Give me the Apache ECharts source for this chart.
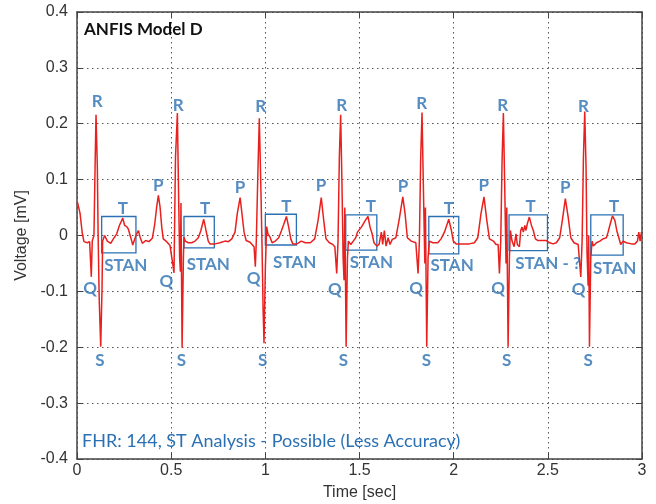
<!DOCTYPE html>
<html>
<head>
<meta charset="utf-8">
<title>ANFIS Model D</title>
<script src="https://cdn.jsdelivr.net/npm/echarts@6/dist/echarts.min.js"></script>
<style>
  html, body { margin: 0; padding: 0; background: #ffffff; }
  #chart { width: 656px; height: 504px; }
</style>
</head>
<body>
<div id="chart"></div>
<script>
// Fetal ECG reconstruction, ANFIS model D: [time (s), voltage (mV)] per beat
const beat1 = [[0.002,0.060],[0.016,0.040],[0.028,0.004],[0.037,-0.011],[0.055,-0.013],[0.067,-0.011],[0.076,-0.074],[0.081,-0.010],[0.090,0.000],[0.096,0.123],[0.101,0.216],[0.108,0.123],[0.112,0.004],[0.118,-0.115],[0.126,-0.199],[0.133,-0.092],[0.136,-0.010],[0.147,0.000],[0.161,-0.010],[0.179,-0.014],[0.193,-0.006],[0.211,0.003],[0.225,0.018],[0.243,0.031],[0.253,0.018],[0.264,0.016],[0.272,0.012],[0.285,-0.003],[0.296,-0.017],[0.306,-0.014],[0.313,0.000],[0.326,0.009],[0.335,-0.003],[0.347,-0.014],[0.365,-0.009],[0.382,-0.011],[0.400,-0.005],[0.413,0.021],[0.423,0.051],[0.432,0.072],[0.441,0.051],[0.450,0.015],[0.458,-0.006],[0.476,-0.011],[0.494,-0.018]];
const beat2 = [[0.508,-0.050],[0.515,-0.067],[0.523,0.140],[0.533,0.219],[0.540,0.060],[0.545,-0.040],[0.549,-0.065],[0.552,0.058],[0.558,-0.201],[0.565,-0.040],[0.568,-0.003],[0.575,-0.010],[0.591,-0.013],[0.609,-0.013],[0.627,-0.010],[0.644,-0.004],[0.657,0.008],[0.673,0.029],[0.685,0.009],[0.697,-0.010],[0.706,-0.015],[0.733,-0.015],[0.759,-0.013],[0.786,-0.010],[0.804,-0.011],[0.822,-0.006],[0.839,0.006],[0.851,0.039],[0.866,0.068],[0.876,0.039],[0.887,0.006],[0.898,-0.009],[0.919,-0.012],[0.940,-0.020]];
const beat3 = [[0.947,-0.056],[0.952,-0.010],[0.961,0.120],[0.968,0.210],[0.976,0.090],[0.982,-0.010],[0.988,-0.130],[0.993,-0.193],[1.000,-0.060],[1.007,0.016],[1.014,0.003],[1.025,-0.003],[1.036,-0.013],[1.053,-0.010],[1.071,-0.004],[1.085,0.008],[1.098,0.020],[1.112,0.034],[1.124,0.015],[1.135,-0.006],[1.146,-0.015],[1.168,-0.015],[1.191,-0.010],[1.212,-0.013],[1.239,-0.013],[1.262,-0.006],[1.280,0.027],[1.297,0.068],[1.310,0.027],[1.322,-0.006],[1.340,-0.013],[1.358,-0.016],[1.369,-0.020]];
const beat4 = [[1.379,-0.068],[1.386,-0.010],[1.393,0.140],[1.400,0.216],[1.407,0.090],[1.413,-0.040],[1.418,-0.080],[1.422,0.050],[1.429,-0.199],[1.436,-0.040],[1.441,-0.010],[1.454,-0.016],[1.467,-0.010],[1.480,-0.004],[1.489,0.006],[1.499,0.003],[1.510,0.015],[1.520,0.012],[1.531,0.027],[1.545,0.034],[1.556,0.015],[1.567,0.003],[1.577,-0.013],[1.592,-0.019],[1.604,-0.016],[1.616,0.006],[1.623,-0.016],[1.632,0.009],[1.641,-0.019],[1.652,-0.004],[1.662,-0.016],[1.674,-0.007],[1.693,-0.004],[1.710,0.027],[1.730,0.069],[1.742,0.039],[1.754,-0.004],[1.775,-0.010],[1.799,-0.013],[1.804,-0.016]];
const beat5 = [[1.811,-0.068],[1.818,-0.010],[1.825,0.140],[1.832,0.220],[1.839,0.090],[1.847,-0.050],[1.850,0.050],[1.857,-0.199],[1.864,-0.040],[1.871,-0.010],[1.889,-0.013],[1.916,-0.013],[1.933,-0.006],[1.951,0.006],[1.974,0.029],[1.988,0.009],[1.998,-0.010],[2.013,-0.015],[2.048,-0.015],[2.083,-0.015],[2.110,-0.013],[2.128,-0.004],[2.145,0.039],[2.161,0.069],[2.176,0.027],[2.190,-0.006],[2.211,-0.010],[2.225,-0.016],[2.236,-0.016]];
const beat6 = [[2.243,-0.068],[2.250,-0.010],[2.257,0.134],[2.264,0.219],[2.271,0.090],[2.278,-0.050],[2.282,0.050],[2.289,-0.199],[2.296,-0.040],[2.301,0.009],[2.310,-0.010],[2.321,-0.020],[2.331,0.003],[2.338,-0.016],[2.349,-0.020],[2.356,0.009],[2.363,0.015],[2.370,0.006],[2.378,0.018],[2.384,0.009],[2.391,0.021],[2.402,0.033],[2.413,0.018],[2.423,0.009],[2.434,-0.006],[2.448,-0.009],[2.466,-0.009],[2.492,-0.009],[2.510,-0.013],[2.528,-0.015],[2.545,-0.013],[2.563,-0.004],[2.577,0.027],[2.593,0.066],[2.608,0.033],[2.622,-0.004],[2.639,-0.013],[2.661,-0.016]];
const beat7 = [[2.675,-0.074],[2.682,-0.010],[2.689,0.140],[2.696,0.222],[2.703,0.120],[2.708,-0.030],[2.714,-0.090],[2.717,0.000],[2.721,-0.199],[2.728,-0.040],[2.735,-0.010],[2.742,-0.019],[2.758,-0.013],[2.776,-0.010],[2.793,-0.006],[2.811,-0.004],[2.820,0.006],[2.829,0.018],[2.843,0.035],[2.856,0.027],[2.866,0.009],[2.877,-0.004],[2.887,-0.016],[2.900,-0.010],[2.917,-0.013],[2.944,-0.015],[2.962,-0.015],[2.976,-0.010],[2.983,0.006],[2.990,-0.010],[2.997,0.006]];

// ST-segment analysis windows (time range, voltage range)
const stanStart  = [0.131, 0.568, 1.000, 1.427, 1.868, 2.294, 2.728];
const stanEnd    = [0.313, 0.729, 1.165, 1.592, 2.027, 2.498, 2.900];
const stanTop    = [0.034, 0.034, 0.038, 0.037, 0.034, 0.037, 0.037];
const stanBottom = [-0.031, -0.022, -0.017, -0.026, -0.033, -0.027, -0.035];

// Wave annotation anchors (time, voltage)
const rLabelT = [0.108, 0.538, 0.976, 1.406, 1.830, 2.261, 2.689];
const rLabelV = [0.239, 0.233, 0.230, 0.233, 0.236, 0.233, 0.230];
const sLabelT = [0.122, 0.555, 0.986, 1.414, 1.855, 2.281, 2.714];
const sLabelV = [-0.223, -0.223, -0.223, -0.223, -0.223, -0.223, -0.223];
const qLabelT = [0.069, 0.475, 0.938, 1.369, 1.800, 2.236, 2.664];
const qLabelV = [-0.094, -0.083, -0.077, -0.097, -0.094, -0.094, -0.097];
const pLabelT = [0.432, 0.866, 1.296, 1.731, 2.160, 2.593];
const pLabelV = [0.090, 0.085, 0.089, 0.087, 0.089, 0.085];
const tLabelT = [0.243, 0.680, 1.112, 1.560, 1.974, 2.409, 2.852];
const tLabelV = [0.049, 0.049, 0.052, 0.052, 0.049, 0.052, 0.052];
const stanLabelT = [0.259, 0.697, 1.156, 1.563, 1.992, 2.501, 2.855];
const stanLabelV = [-0.053, -0.052, -0.049, -0.049, -0.053, -0.050, -0.059];
const stanTexts  = ['STAN', 'STAN', 'STAN', 'STAN', 'STAN', 'STAN - ?', 'STAN'];

// Axis tick labels
const xTickLabels = ['0', '0.5', '1', '1.5', '2', '2.5', '3'];
const yTickLabels = ['-0.4', '-0.3', '-0.2', '-0.1', '0', '0.1', '0.2', '0.3', '0.4'];

const BLUE = '#2a70b3';
const ecg = [].concat(beat1, beat2, beat3, beat4, beat5, beat6, beat7);

function annotation(times, volts, texts) {
  return {
    type: 'scatter',
    silent: true,
    symbolSize: 1,
    itemStyle: { color: 'rgba(0,0,0,0)' },
    z: 5,
    data: times.map((t, i) => ({ value: [t, volts[i]], name: Array.isArray(texts) ? texts[i] : texts })),
    label: {
      show: true,
      position: 'inside',
      formatter: p => p.name,
      color: BLUE,
      fontFamily: 'Lato',
      fontWeight: 'bold',
      fontSize: 17
    }
  };
}

const tickFont = { color: '#333', fontFamily: 'Liberation Sans, Arial', fontSize: 16 };
const boxLine = { show: true, onZero: false, lineStyle: { color: '#444', width: 1.5 } };
const gridDots = { show: true, lineStyle: { color: '#555', width: 1, type: [1.5, 3.5] } };
const inTicks = { show: true, inside: true, length: 6, lineStyle: { color: '#444' } };

const chart = echarts.init(document.getElementById('chart'), null, { renderer: 'canvas' });
chart.setOption({
  animation: false,
  backgroundColor: '#ffffff',
  grid: { left: 77, right: 14, top: 12, bottom: 45, containLabel: false, outerBoundsMode: 'none' },
  xAxis: [
    {
      type: 'value', min: 0, max: 3, interval: 0.5, position: 'bottom',
      name: 'Time [sec]', nameLocation: 'middle', nameGap: 26,
      nameTextStyle: { color: '#333', fontFamily: 'Liberation Sans, Arial', fontSize: 16 },
      axisLine: boxLine,
      axisTick: inTicks,
      axisLabel: Object.assign({ margin: 4, formatter: v => xTickLabels[Math.round(v / 0.5)] }, tickFont),
      splitLine: gridDots
    },
    {
      type: 'value', min: 0, max: 3, interval: 0.5, position: 'top',
      axisLine: boxLine,
      axisTick: inTicks,
      axisLabel: { show: false },
      splitLine: { show: false }
    }
  ],
  yAxis: [
    {
      type: 'value', min: -0.4, max: 0.4, interval: 0.1, position: 'left',
      name: 'Voltage [mV]', nameLocation: 'middle', nameGap: 46, nameRotate: 90,
      nameTextStyle: { color: '#333', fontFamily: 'Liberation Sans, Arial', fontSize: 16 },
      axisLine: boxLine,
      axisTick: inTicks,
      axisLabel: Object.assign({ margin: 9, formatter: v => yTickLabels[Math.round((v + 0.4) / 0.1)] }, tickFont),
      splitLine: gridDots
    },
    {
      type: 'value', min: -0.4, max: 0.4, interval: 0.1, position: 'right',
      axisLine: boxLine,
      axisTick: inTicks,
      axisLabel: { show: false },
      splitLine: { show: false }
    }
  ],
  graphic: [
    {
      type: 'text', left: 84, top: 21, z: 10,
      style: { text: 'ANFIS Model D', fill: '#111', font: 'bold 17px Lato' }
    },
    {
      type: 'text', left: 82, top: 432, z: 10,
      style: { text: 'FHR: 144, ST Analysis - Possible (Less Accuracy)', fill: BLUE, font: '18px Lato' }
    }
  ],
  series: [
    {
      type: 'line',
      data: ecg,
      showSymbol: false,
      silent: true,
      z: 3,
      lineStyle: { color: '#e8201e', width: 1.5 },
      markArea: {
        silent: true,
        itemStyle: { color: 'rgba(0,0,0,0)', borderColor: BLUE, borderWidth: 1.3 },
        data: stanStart.map((s, i) => [
          { coord: [s, stanTop[i]] },
          { coord: [stanEnd[i], stanBottom[i]] }
        ])
      }
    },
    annotation(rLabelT, rLabelV, 'R'),
    annotation(sLabelT, sLabelV, 'S'),
    annotation(qLabelT, qLabelV, 'Q'),
    annotation(pLabelT, pLabelV, 'P'),
    annotation(tLabelT, tLabelV, 'T'),
    annotation(stanLabelT, stanLabelV, stanTexts)
  ]
});
</script>
</body>
</html>
